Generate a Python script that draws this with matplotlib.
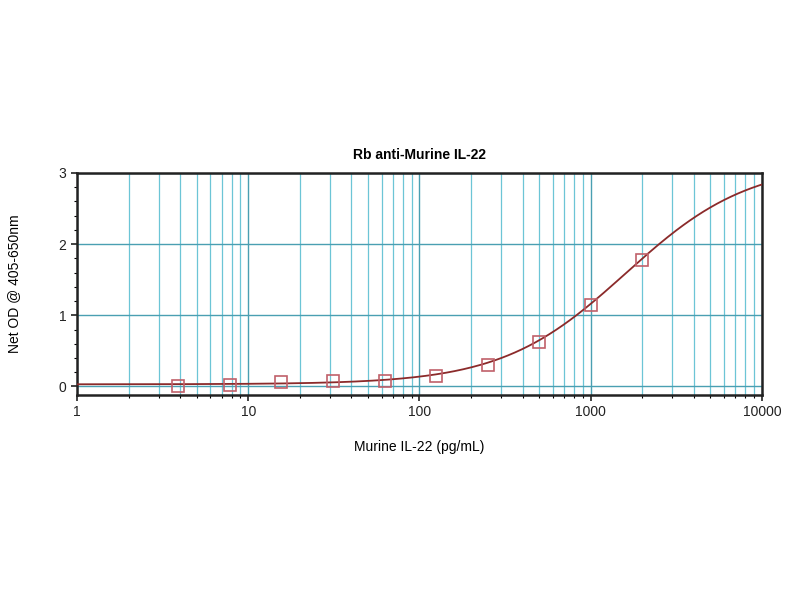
import numpy as np
import matplotlib
matplotlib.use("Agg")
import matplotlib.pyplot as plt
from matplotlib.ticker import LogLocator, FixedLocator, NullFormatter

plt.rcParams['font.family'] = ['Liberation Sans', 'DejaVu Sans']

conc = [3.9, 7.8, 15.6, 31.25, 62.5, 125, 250, 500, 1000, 2000]
od = [0.01, 0.02, 0.06, 0.07, 0.08, 0.15, 0.30, 0.63, 1.15, 1.78]

# 4-parameter logistic fit parameters (bottom, top, EC50, slope)
fit_bottom, fit_top, fit_ec50, fit_slope = 0.03, 3.15, 1600.0, 1.2

fig = plt.figure(figsize=(8, 6), dpi=100)
ax = fig.add_axes([0.09625, 0.3417, 0.85625, 0.37])

xs = np.logspace(0, 4, 400)
ys = fit_top + (fit_bottom - fit_top) / (1 + (xs / fit_ec50) ** fit_slope)
ax.plot(xs, ys, color='#8b2a2a', lw=1.3, zorder=3)
ax.plot(conc, od, linestyle='none', marker='s', markersize=8.5, markerfacecolor='none',
        markeredgecolor='#c0606a', markeredgewidth=1.2, zorder=4)

ax.set_xscale('log')
ax.set_xlim(1, 10000)
ax.set_ylim(-0.12, 3)
ax.xaxis.set_minor_locator(LogLocator(base=10, subs=np.arange(2, 10), numticks=20))
ax.xaxis.set_minor_formatter(NullFormatter())
ax.set_xticks([1, 10, 100, 1000, 10000])
ax.set_xticklabels(['1', '10', '100', '1000', '10000'])
ax.set_yticks([0, 1, 2, 3])
ax.yaxis.set_minor_locator(FixedLocator(np.arange(0, 3.01, 0.2)))

ax.grid(which='major', axis='both', color='#4a9fb2', lw=1.0, zorder=0)
ax.grid(which='minor', axis='x', color='#6cc5d6', lw=0.9, zorder=0)

for s in ax.spines.values():
    s.set_linewidth(1.8)
    s.set_color('#222222')

ax.tick_params(axis='both', which='major', labelsize=10, length=4, width=1.2, colors='#222222')
ax.tick_params(axis='both', which='minor', length=2, width=0.8)

ax.set_title('Rb anti-Murine IL-22', fontsize=10, fontweight='bold', pad=10)
ax.set_xlabel('Murine IL-22 (pg/mL)', fontsize=10, labelpad=15)
ax.set_ylabel('Net OD @ 405-650nm', fontsize=10, labelpad=27)

fig.savefig('out.png', dpi=100)
